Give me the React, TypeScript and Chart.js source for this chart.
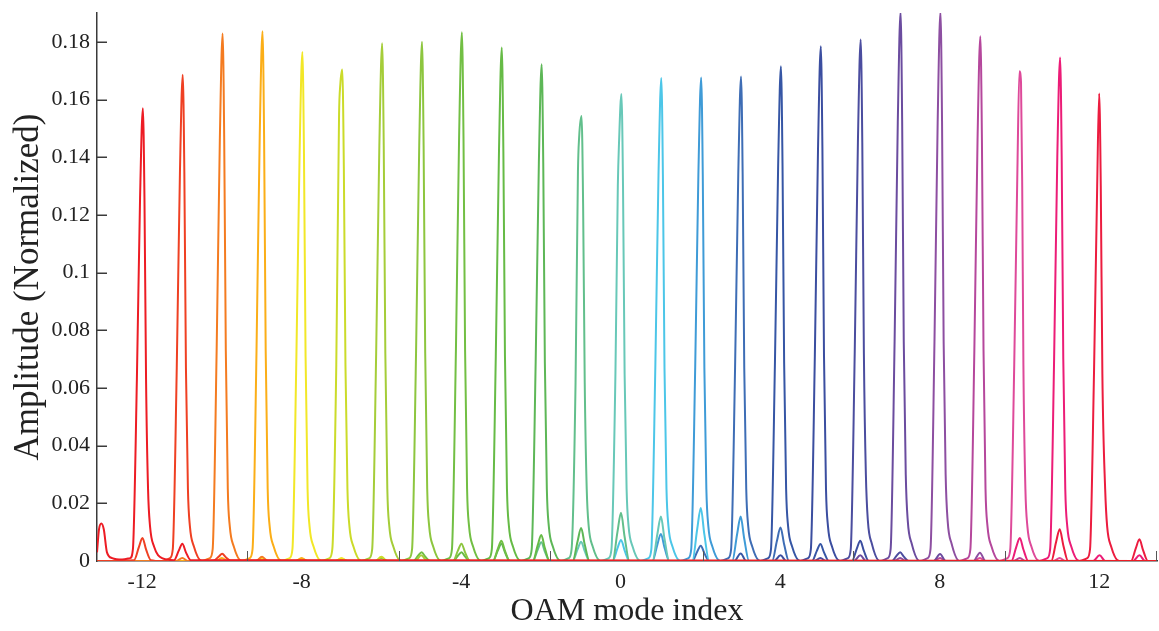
import React, { useEffect, useRef } from "react";
import { Chart, registerables } from "chart.js";

Chart.register(...registerables);

const FONT = "'Liberation Serif', 'Times New Roman', serif";

const MODES = [-12, -11, -10, -9, -8, -7, -6, -5, -4, -3, -2, -1, 0, 1, 2, 3, 4, 5, 6, 7, 8, 9, 10, 11, 12];

const COLORS = [
  "#ED1C24", "#EF4023", "#F47B20", "#FBAE17", "#F2E727", "#CBDB2A", "#A5CD39",
  "#8DC63F", "#72BF44", "#66BB46", "#5DB757", "#62BF8C", "#68C8B8", "#4CC6E8",
  "#3F9BD7", "#3E6DB5", "#3656A5", "#3B4EA0", "#4B4D9F", "#6B4C9F", "#8D4FA1",
  "#B5479C", "#DE4A9A", "#EC1C77", "#EC1C3F",
];

const X_MIN = -13.13;
const X_MAX = 13.45;
const Y_MAX = 0.19;
const X_TICKS = [-12, -8, -4, 0, 4, 8, 12];
const Y_TICKS = [0, 0.02, 0.04, 0.06, 0.08, 0.1, 0.12, 0.14, 0.16, 0.18];
const Y_TICK_LABELS = ["0", "0.02", "0.04", "0.06", "0.08", "0.1", "0.12", "0.14", "0.16", "0.18"];
const MINOR_X_TICKS = [-9.36, -5.55, -1.76, 2.06, 5.82, 9.64, 13.43];

// each series: flat list of x, y pairs (OAM mode index, normalized amplitude)
const MODE_M12 = [-13.13,0.003, -13.08,0.011, -13.02,0.013, -12.96,0.011, -12.88,0.003, -12.75,0.001, -12.5,0.0005, -12.3,0.001, -12.23,0.004, -12.13,0.063, -12.05,0.126, -11.98,0.157, -11.94,0.126, -11.9,0.063, -11.85,0.025, -11.8,0.012, -11.7,0.005, -11.5,0.001, -11.2,0.0003, -11.08,0.0036, -10.99,0.006, -10.9,0.003, -10.78,0.0003, 13.45,0];
const MODE_M11 = [-13.13,0, -12.2,0.0003, -12.08,0.0048, -11.99,0.008, -11.9,0.004, -11.78,0.0003, -11.5,0, -11.3,0.001, -11.23,0.004, -11.13,0.067, -11.05,0.135, -10.98,0.1686, -10.94,0.135, -10.9,0.067, -10.85,0.025, -10.8,0.012, -10.7,0.005, -10.5,0, -10.2,0.0002, -10.08,0.0015, -9.99,0.0025, -9.9,0.0013, -9.78,0.0002, 13.45,0];
const MODE_M10 = [-13.13,0, -11.15,0, -10.99,0.001, -10.85,0, -10.5,0, -10.3,0.001, -10.23,0.004, -10.13,0.073, -10.05,0.146, -9.98,0.1829, -9.94,0.146, -9.9,0.073, -9.85,0.025, -9.8,0.012, -9.7,0.005, -9.5,0, -9.15,0, -8.99,0.0015, -8.85,0, 13.45,0];
const MODE_M9 = [-13.13,0, -10.15,0, -10,0.001, -9.85,0, -9.5,0, -9.3,0.001, -9.23,0.004, -9.13,0.073, -9.05,0.147, -8.98,0.1837, -8.94,0.147, -8.9,0.073, -8.85,0.025, -8.8,0.012, -8.7,0.005, -8.5,0, -8.15,0, -8,0.001, -7.85,0, 13.45,0];
const MODE_M8 = [-13.13,0, -9.15,0, -9,0.0008, -8.85,0, -8.5,0, -8.3,0.001, -8.23,0.004, -8.13,0.071, -8.05,0.141, -7.98,0.1765, -7.94,0.141, -7.9,0.071, -7.85,0.025, -7.8,0.012, -7.7,0.005, -7.5,0, -7.15,0, -7,0.001, -6.85,0, 13.45,0];
const MODE_M7 = [-13.13,0, -8.15,0, -8,0.0008, -7.85,0, -7.5,0, -7.3,0.001, -7.23,0.004, -7.13,0.068, -7.06,0.155, -7.03,0.165, -6.98,0.1704, -6.94,0.136, -6.9,0.068, -6.85,0.025, -6.8,0.012, -6.7,0.005, -6.5,0, -6.15,0, -6,0.0015, -5.85,0, 13.45,0];
const MODE_M6 = [-13.13,0, -7.15,0, -7,0.0008, -6.85,0, -6.5,0, -6.3,0.001, -6.23,0.004, -6.13,0.072, -6.05,0.144, -5.98,0.1795, -5.94,0.144, -5.9,0.072, -5.85,0.025, -5.8,0.012, -5.7,0.005, -5.5,0, -5.15,0, -5,0.002, -4.85,0, 13.45,0];
const MODE_M5 = [-13.13,0, -6.15,0, -6,0.001, -5.85,0, -5.5,0, -5.3,0.001, -5.23,0.004, -5.13,0.072, -5.05,0.144, -4.98,0.18, -4.94,0.144, -4.9,0.072, -4.85,0.025, -4.8,0.012, -4.7,0.005, -4.5,0, -4.2,0, -4.08,0.0036, -3.99,0.006, -3.9,0.003, -3.78,0, 13.45,0];
const MODE_M4 = [-13.13,0, -5.2,0, -5.08,0.0018, -4.99,0.003, -4.9,0.0015, -4.78,0, -4.5,0, -4.3,0.001, -4.23,0.004, -4.13,0.073, -4.05,0.147, -3.98,0.1833, -3.94,0.147, -3.9,0.073, -3.85,0.025, -3.8,0.012, -3.7,0.005, -3.5,0, -3.2,0, -3.08,0.0042, -2.99,0.007, -2.9,0.0035, -2.78,0, 13.45,0];
const MODE_M3 = [-13.13,0, -4.2,0, -4.08,0.0018, -3.99,0.003, -3.9,0.0015, -3.78,0, -3.5,0, -3.3,0.001, -3.23,0.004, -3.13,0.071, -3.05,0.142, -2.98,0.178, -2.94,0.142, -2.9,0.071, -2.85,0.025, -2.8,0.012, -2.7,0.005, -2.5,0, -2.2,0, -2.08,0.0054, -1.99,0.009, -1.9,0.0045, -1.78,0, 13.45,0];
const MODE_M2 = [-13.13,0, -3.2,0, -3.08,0.0036, -2.99,0.006, -2.9,0.003, -2.78,0, -2.5,0, -2.3,0.001, -2.23,0.004, -2.13,0.069, -2.05,0.138, -1.98,0.1722, -1.94,0.138, -1.9,0.069, -1.85,0.025, -1.8,0.012, -1.7,0.005, -1.5,0, -1.2,0, -1.08,0.0068, -0.99,0.0114, -0.9,0.0057, -0.78,0, 13.45,0];
const MODE_M1 = [-13.13,0, -2.2,0, -2.08,0.0039, -1.99,0.0065, -1.9,0.0033, -1.78,0, -1.5,0, -1.3,0.001, -1.23,0.004, -1.13,0.062, -1.07,0.135, -1.04,0.147, -0.98,0.1543, -0.94,0.123, -0.9,0.062, -0.85,0.025, -0.8,0.012, -0.7,0.005, -0.5,0, -0.2,0, -0.08,0.01, 0.01,0.0167, 0.1,0.0084, 0.22,0, 13.45,0];
const MODE_0 = [-13.13,0, -1.2,0, -1.08,0.004, -0.99,0.0067, -0.9,0.0034, -0.78,0, -0.5,0, -0.3,0.001, -0.23,0.004, -0.13,0.065, -0.07,0.13, -0.04,0.145, 0.02,0.1619, 0.06,0.13, 0.1,0.065, 0.15,0.025, 0.2,0.012, 0.3,0.005, 0.5,0, 0.8,0, 0.92,0.0092, 1.01,0.0154, 1.1,0.0077, 1.22,0, 13.45,0];
const MODE_1 = [-13.13,0, -0.2,0, -0.08,0.0044, 0.01,0.0073, 0.1,0.0037, 0.22,0, 0.5,0, 0.7,0.001, 0.77,0.004, 0.87,0.067, 0.95,0.134, 1.02,0.1675, 1.06,0.134, 1.1,0.067, 1.15,0.025, 1.2,0.012, 1.3,0.005, 1.5,0, 1.8,0, 1.92,0.011, 2.01,0.0184, 2.1,0.0092, 2.22,0, 13.45,0];
const MODE_2 = [-13.13,0, 0.8,0, 0.92,0.0056, 1.01,0.0094, 1.1,0.0047, 1.22,0, 1.5,0, 1.7,0.001, 1.77,0.004, 1.87,0.067, 1.95,0.134, 2.02,0.1676, 2.06,0.134, 2.1,0.067, 2.15,0.025, 2.2,0.012, 2.3,0.005, 2.5,0, 2.8,0, 2.92,0.0092, 3.01,0.0154, 3.1,0.0077, 3.22,0, 13.45,0];
const MODE_3 = [-13.13,0, 1.8,0, 1.92,0.0032, 2.01,0.0053, 2.1,0.0027, 2.22,0, 2.5,0, 2.7,0.001, 2.77,0.004, 2.87,0.067, 2.95,0.134, 3.02,0.168, 3.06,0.134, 3.1,0.067, 3.15,0.025, 3.2,0.012, 3.3,0.005, 3.5,0, 3.8,0, 3.92,0.007, 4.01,0.0116, 4.1,0.0058, 4.22,0, 13.45,0];
const MODE_4 = [-13.13,0, 2.85,0, 3.01,0.0026, 3.15,0, 3.5,0, 3.7,0.001, 3.77,0.004, 3.87,0.069, 3.95,0.137, 4.02,0.1715, 4.06,0.137, 4.1,0.069, 4.15,0.025, 4.2,0.012, 4.3,0.005, 4.5,0, 4.8,0, 4.92,0.0035, 5.01,0.0059, 5.1,0.003, 5.22,0, 13.45,0];
const MODE_5 = [-13.13,0, 3.85,0, 4.01,0.002, 4.15,0, 4.5,0, 4.7,0.001, 4.77,0.004, 4.87,0.071, 4.95,0.143, 5.02,0.1785, 5.06,0.143, 5.1,0.071, 5.15,0.025, 5.2,0.012, 5.3,0.005, 5.5,0, 5.8,0, 5.92,0.0042, 6.01,0.007, 6.1,0.0035, 6.22,0, 13.45,0];
const MODE_6 = [-13.13,0, 4.85,0, 5.01,0.001, 5.15,0, 5.5,0, 5.7,0.001, 5.77,0.004, 5.87,0.072, 5.95,0.145, 6.02,0.1808, 6.06,0.145, 6.1,0.072, 6.15,0.03, 6.2,0.014, 6.3,0.006, 6.5,0, 6.8,0, 6.92,0.0018, 7.01,0.003, 7.1,0.0015, 7.22,0, 13.45,0];
const MODE_7 = [-13.13,0, 5.85,0, 6.01,0.002, 6.15,0, 6.5,0, 6.7,0.001, 6.77,0.004, 6.87,0.076, 6.95,0.152, 7.02,0.1905, 7.06,0.152, 7.1,0.076, 7.15,0.03, 7.2,0.014, 7.3,0.006, 7.5,0, 7.85,0, 8.01,0.0024, 8.15,0, 13.45,0];
const MODE_8 = [-13.13,0, 6.85,0, 7.01,0.001, 7.15,0, 7.5,0, 7.7,0.001, 7.77,0.004, 7.87,0.076, 7.95,0.152, 8.02,0.1905, 8.06,0.152, 8.1,0.076, 8.15,0.03, 8.2,0.014, 8.3,0.006, 8.5,0, 8.85,0, 9.01,0.0029, 9.15,0, 13.45,0];
const MODE_9 = [-13.13,0, 7.85,0, 8.01,0.001, 8.15,0, 8.5,0, 8.7,0.001, 8.77,0.004, 8.87,0.073, 8.95,0.146, 9.02,0.1819, 9.06,0.146, 9.1,0.073, 9.15,0.025, 9.2,0.012, 9.3,0.005, 9.5,0, 9.85,0, 10.01,0.001, 10.15,0, 13.45,0];
const MODE_10 = [-13.13,0, 8.85,0, 9.01,0.001, 9.15,0, 9.5,0, 9.7,0.001, 9.77,0.004, 9.87,0.068, 9.95,0.136, 10.0,0.1698, 10.04,0.166, 10.07,0.13, 10.1,0.068, 10.15,0.025, 10.2,0.012, 10.3,0.005, 10.5,0, 10.85,0, 11.01,0.001, 11.15,0, 13.45,0];
const MODE_11 = [-13.13,0, 9.8,0, 9.92,0.0048, 10.01,0.008, 10.1,0.004, 10.22,0, 10.5,0, 10.7,0.001, 10.77,0.004, 10.87,0.07, 10.95,0.14, 11.02,0.1746, 11.06,0.14, 11.1,0.07, 11.15,0.025, 11.2,0.012, 11.3,0.005, 11.5,0, 11.85,0, 12.01,0.002, 12.15,0, 12.85,0, 13.01,0.002, 13.15,0, 13.45,0];
const MODE_12 = [-13.13,0, 10.8,0, 10.92,0.0066, 11.01,0.011, 11.1,0.0055, 11.22,0, 11.5,0, 11.7,0.001, 11.77,0.004, 11.87,0.065, 11.95,0.13, 12.0,0.1621, 12.04,0.13, 12.08,0.065, 12.15,0.025, 12.2,0.012, 12.3,0.005, 12.5,0, 12.8,0, 12.92,0.0045, 13.01,0.0075, 13.1,0.0038, 13.22,0, 13.45,0];

const SERIES = [
  MODE_M12, MODE_M11, MODE_M10, MODE_M9, MODE_M8, MODE_M7, MODE_M6, MODE_M5, MODE_M4,
  MODE_M3, MODE_M2, MODE_M1, MODE_0, MODE_1, MODE_2, MODE_3, MODE_4, MODE_5, MODE_6,
  MODE_7, MODE_8, MODE_9, MODE_10, MODE_11, MODE_12,
];

function toPoints(flat: number[]) {
  const pts: { x: number; y: number }[] = [];
  for (let i = 0; i < flat.length; i += 2) pts.push({ x: flat[i], y: flat[i + 1] });
  return pts;
}

const inwardTicks = {
  id: "inwardTicks",
  afterDraw(chart: any) {
    const { ctx, chartArea, scales } = chart;
    ctx.save();
    ctx.strokeStyle = "#3a3a3a";
    ctx.lineWidth = 1.5;
    Y_TICKS.forEach((v) => {
      if (v === 0) return;
      const y = Math.round(scales.y.getPixelForValue(v)) + 0.25;
      ctx.beginPath();
      ctx.moveTo(chartArea.left, y);
      ctx.lineTo(chartArea.left + 10, y);
      ctx.stroke();
    });
    ctx.strokeStyle = "#555";
    ctx.lineWidth = 1;
    MINOR_X_TICKS.forEach((v) => {
      const x = Math.round(scales.x.getPixelForValue(v)) + 0.5;
      ctx.beginPath();
      ctx.moveTo(x, chartArea.bottom);
      ctx.lineTo(x, chartArea.bottom - 10);
      ctx.stroke();
    });
    ctx.restore();
  },
};

export default function App() {
  const ref = useRef<HTMLCanvasElement>(null);
  useEffect(() => {
    const canvas = ref.current;
    if (!canvas) return;
    const chart = new Chart(canvas, {
      type: "line",
      data: {
        datasets: SERIES.map((arr, i) => ({
          label: `l = ${MODES[i]}`,
          data: toPoints(arr),
          borderColor: COLORS[i],
          backgroundColor: COLORS[i],
          borderWidth: 2,
          pointRadius: 0,
          fill: false,
          cubicInterpolationMode: "monotone" as const,
        })),
      },
      options: {
        responsive: false,
        animation: false,
        events: [],
        layout: { padding: { left: 0, top: 13, right: 2, bottom: 0 } },
        plugins: { legend: { display: false }, tooltip: { enabled: false } },
        scales: {
          x: {
            type: "linear",
            min: X_MIN,
            max: X_MAX,
            afterBuildTicks: (s: any) => {
              s.ticks = X_TICKS.map((v) => ({ value: v }));
            },
            afterFit: (s: any) => {
              s.height = 70;
              s.paddingLeft = 0;
              s.paddingRight = 0;
            },
            grid: { display: false, drawTicks: false },
            border: { display: true, color: "#3a3a3a", width: 1.5 },
            ticks: {
              autoSkip: false,
              maxRotation: 0,
              padding: 8,
              color: "#222",
              font: { family: FONT, size: 22 },
              callback: (v: any) => String(v),
            },
            title: {
              display: true,
              text: "OAM mode index",
              color: "#222",
              font: { family: FONT, size: 32 },
              padding: { top: 0, bottom: 0 },
            },
          },
          y: {
            type: "linear",
            min: 0,
            max: Y_MAX,
            afterBuildTicks: (s: any) => {
              s.ticks = Y_TICKS.map((v) => ({ value: v }));
            },
            afterFit: (s: any) => {
              s.width = 97;
              s.paddingTop = 0;
              s.paddingBottom = 0;
            },
            grid: { display: false, drawTicks: false },
            border: { display: true, color: "#3a3a3a", width: 1.5 },
            ticks: {
              padding: 7,
              color: "#222",
              font: { family: FONT, size: 22 },
              callback: (v: any) => {
                const idx = Y_TICKS.findIndex((t) => Math.abs(t - Number(v)) < 1e-9);
                return idx >= 0 ? Y_TICK_LABELS[idx] : "";
              },
            },
            title: {
              display: true,
              text: "Amplitude (Normalized)",
              color: "#222",
              font: { family: FONT, size: 35 },
              padding: { top: 8, bottom: 0 },
            },
          },
        },
      },
      plugins: [inwardTicks],
    });
    return () => chart.destroy();
  }, []);
  return (
    <canvas
      ref={ref}
      width={1159}
      height={631}
      style={{ position: "fixed", left: 0, top: 0, display: "block" }}
    />
  );
}
